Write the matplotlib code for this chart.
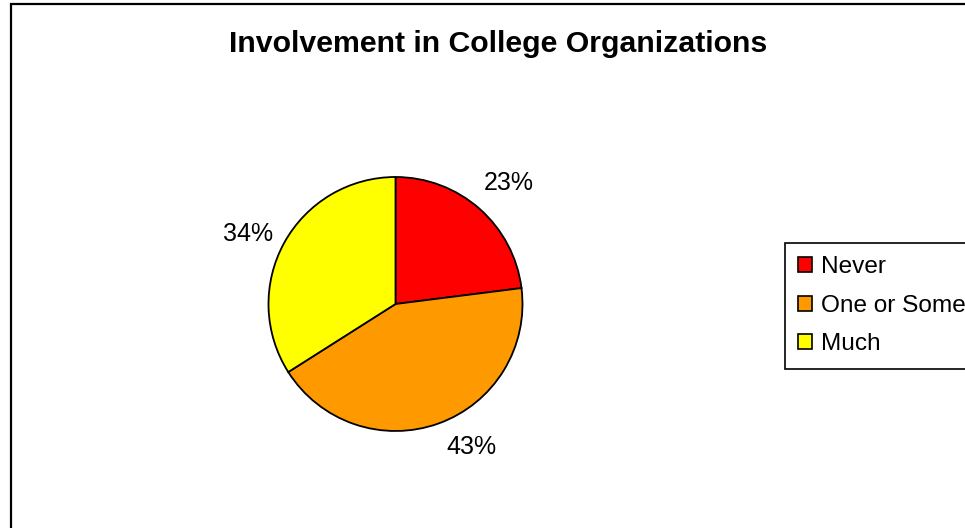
import numpy as np
import matplotlib
matplotlib.use("Agg")
import matplotlib.pyplot as plt
from matplotlib.patches import Rectangle

plt.rcParams['font.family'] = ['Liberation Sans', 'DejaVu Sans']

categories = ["Never", "One or Some", "Much"]
shares = [23, 43, 34]
colors = ["#FF0000", "#FF9900", "#FFFF00"]
title = "Involvement in College Organizations"

# small pixel nudges for the percentage labels (x right, y down)
label_nudge = [(3, 4), (22, -8), (1, 11)]

W, H = 965, 528
fig = plt.figure(figsize=(W / 100, H / 100), dpi=100)

# chart area border (runs off the right and bottom edges)
fig.patches.append(Rectangle((11 / W, -0.05), 1.2, (H - 4) / H + 0.05,
                             transform=fig.transFigure, fill=False,
                             edgecolor="black", linewidth=1.6))

# pie axes: centre (395.5, 304) px, radius 127 px
cx, cy, r = 395.5, 304, 127
ax = fig.add_axes([(cx - r) / W, (H - cy - r) / H, 2 * r / W, 2 * r / H])
wedges, _ = ax.pie(shares, colors=colors, startangle=90, counterclock=False,
                   wedgeprops=dict(edgecolor="black", linewidth=1.3),
                   radius=1.0)
ax.set_xlim(-1, 1)
ax.set_ylim(-1, 1)
ax.set_aspect("equal")
ax.axis("off")

# percentage labels placed just outside each wedge
total = sum(shares)
hw, hh = 24 / r, 10 / r
for w, v, (nx, ny) in zip(wedges, shares, label_nudge):
    mid = np.deg2rad((w.theta1 + w.theta2) / 2)
    ext = abs(np.cos(mid)) * hw + abs(np.sin(mid)) * hh
    d = 1.0 + 16 / r + ext
    ax.text(d * np.cos(mid) + nx / r, d * np.sin(mid) - ny / r,
            f"{v / total:.0%}", ha="center", va="center",
            fontsize=18, clip_on=False)

fig.text(498 / W, 1 - 44 / H, title, ha="center", va="center",
         fontsize=21.8, fontweight="bold")

handles = [Rectangle((0, 0), 1, 1, facecolor=c, edgecolor="black", linewidth=1.2)
           for c in colors]
leg = fig.legend(handles, categories, loc="upper left",
                 bbox_to_anchor=(785 / W, 1 - 243 / H),
                 fontsize=17.6, frameon=True, fancybox=False, shadow=False,
                 edgecolor="black", framealpha=1, borderpad=0.54,
                 handlelength=0.58, handleheight=0.58, handletextpad=0.36,
                 labelspacing=0.68, borderaxespad=0)
leg.get_frame().set_linewidth(1.2)

fig.savefig("out.png", dpi=100)
